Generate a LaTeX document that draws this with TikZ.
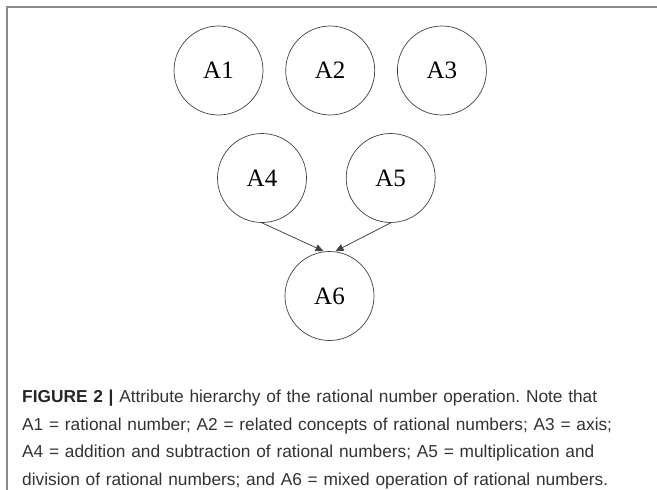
\documentclass[tikz,border=0pt]{standalone}
\usepackage{fontspec}
\setmainfont{Liberation Serif}
\newfontfamily\capfont{Liberation Sans}
\usepackage{xcolor}
\usetikzlibrary{arrows.meta,positioning}

\definecolor{framegray}{RGB}{140,140,140}
\definecolor{linegray}{RGB}{64,64,64}
\definecolor{captext}{RGB}{50,50,50}

\frenchspacing
\begin{document}
\begin{tikzpicture}[
    x=1pt, y=-1pt,
    attr/.style={circle, draw=linegray, line width=0.7pt, minimum size=89pt, inner sep=0pt, font=\fontsize{25}{29}\selectfont},
    arrow/.style={-{Triangle[length=8pt,width=7pt]}, draw=linegray, fill=linegray, line width=0.7pt},
    caption/.style={anchor=north west, align=left, text width=630pt, inner sep=0pt, text=captext, font=\capfont\fontsize{17.3}{27.6}\selectfont}
]
\useasboundingbox (0,0) rectangle (657,490);

% frame
\draw[framegray, line width=1.5pt] (7,490) -- (7,7) -- (657,7);

% top row
\node[attr] (A1) at (218.5,70.5) {A1};
\node[attr, right=22pt of A1] (A2) {A2};
\node[attr, right=22pt of A2] (A3) {A3};

% middle row
\node[attr] (A4) at (262,178) {A4};
\node[attr, right=39pt of A4] (A5) {A5};

% bottom
\node[attr] (A6) at (329.5,296) {A6};

% arrows
\draw[arrow] (A4.south) -- ([xshift=-6pt]A6.north);
\draw[arrow] (A5.south) -- ([xshift=6pt]A6.north);

% caption
\node[caption] (cap) at (22,390) {{\bfseries\color{black!85}FIGURE 2 |} Attribute hierarchy of the rational number operation. Note that\\
A1 = rational number; A2 = related concepts of rational numbers; A3 = axis;\\
A4 = addition and subtraction of rational numbers; A5 = multiplication and\\
division of rational numbers; and A6 = mixed operation of rational numbers.};

\end{tikzpicture}
\end{document}
